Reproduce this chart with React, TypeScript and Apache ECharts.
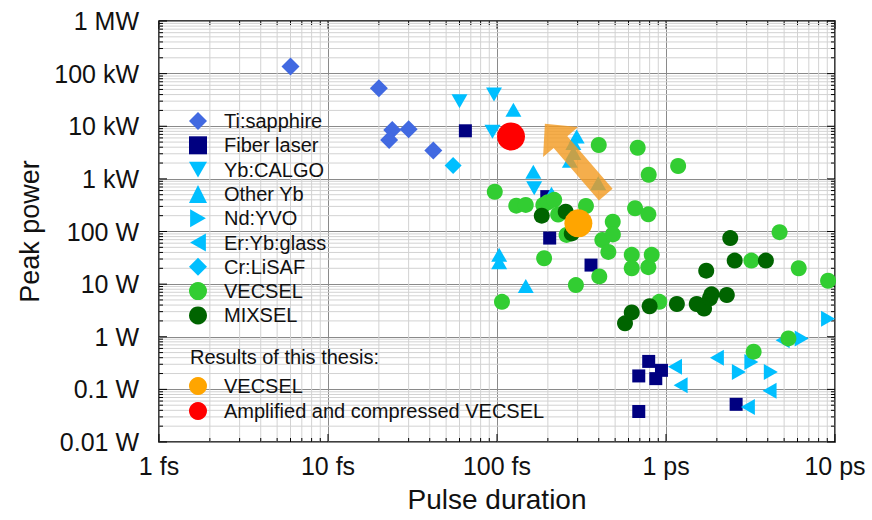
import React, { useEffect, useRef } from 'react';
import * as echarts from 'echarts';

// Axis tick labels (one per decade)
const xTickLabels = ['1 fs', '10 fs', '100 fs', '1 ps', '10 ps'];
const yTickLabels = ['0.01 W', '0.1 W', '1 W', '10 W', '100 W', '1 kW', '10 kW', '100 kW', '1 MW'];
const xMinLog = 0;
const yMinLog = -2;

// Data: [pulse duration (fs), peak power (W)]
const tiSapphire = [[6, 137000], [20, 53000], [24, 8500], [23, 5500], [30, 8800], [42, 3450]];
const fiberLaser = [[65, 8200], [197, 460], [205, 75], [360, 23], [790, 0.34], [690, 0.18], [870, 0.16], [940, 0.23], [690, 0.038], [2600, 0.052]];
const ybCalgo = [[60, 30000], [96, 40000], [94, 7900], [166, 660]];
const otherYb = [[125, 20500], [164, 1370], [210, 520], [296, 6400], [283, 4800], [283, 3100], [270, 2200], [397, 830], [103, 36], [103, 26], [148, 9.2]];
const ndYvo = [[9100, 2.2], [6350, 0.93], [3200, 0.33], [2700, 0.215], [4170, 0.215]];
const erYbGlass = [[1130, 0.27], [1220, 0.12], [2000, 0.4], [4100, 0.094], [3050, 0.046], [4900, 0.86]];
const crLiSaf = [[55, 1790]];
const vecsel = [[97, 570], [107, 4.6], [130, 310], [148, 320], [188, 320], [200, 360], [218, 400], [190, 31], [230, 210], [258, 86], [293, 9.6], [336, 305], [400, 4400], [403, 14], [420, 69], [456, 41], [484, 154], [485, 88], [627, 36], [627, 20], [656, 276], [680, 3900], [786, 212], [790, 1200], [786, 21], [823, 36], [913, 4.6], [1180, 1760], [3200, 28], [3300, 0.52], [4700, 97], [5300, 0.93], [6100, 20], [9100, 11.6]];
const mixsel = [[184, 200], [255, 238], [277, 92], [572, 1.8], [627, 2.9], [800, 3.8], [1160, 4.2], [1520, 4.2], [1680, 3.45], [1820, 5.4], [1860, 6.4], [2290, 6.2], [1730, 18], [2400, 75], [2550, 28], [3900, 28]];
const thesisVecsel = [[303, 143]];
const thesisAmplified = [[121, 6400]];

// Arrow annotation (from -> to), in data units
const arrowFrom = [440, 500];
const arrowTo = [192, 11100];

const FONT = '"Liberation Sans", Arial, Helvetica, sans-serif';
const CYAN = '#00BFFF';

const downTri = 'path://M0,0L16,0L8,14Z';
const rightTri = 'path://M0,0L14,8L0,16Z';
const leftTri = 'path://M14,0L0,8L14,16Z';

// minor/major tick structure for the log axes
const gridItems: number[][] = [];
for (let d = xMinLog; d < xMinLog + xTickLabels.length; d++) {
  gridItems.push([Math.pow(10, d), 1, 0, 1]);
  if (d < xMinLog + xTickLabels.length - 1) for (let k = 2; k <= 9; k++) gridItems.push([k * Math.pow(10, d), 1, 0, 0]);
}
for (let d = yMinLog; d < yMinLog + yTickLabels.length; d++) {
  gridItems.push([1, Math.pow(10, d), 1, 1]);
  if (d < yMinLog + yTickLabels.length - 1) for (let k = 2; k <= 9; k++) gridItems.push([1, k * Math.pow(10, d), 1, 0]);
}

const labelFor = (labels: string[], minLog: number) => (v: number) => {
  const i = Math.round(Math.log10(v)) - minLog;
  return labels[i] ?? '';
};

function scatter(name: string, data: number[][], symbol: string, size: any, color: string, z = 2) {
  return {
    name,
    type: 'scatter',
    data,
    symbol,
    symbolSize: size,
    itemStyle: { color, opacity: 1 },
    z,
    silent: true,
  };
}

const legendText = { fontSize: 20, color: '#111', fontFamily: FONT, padding: [0, 0, 0, 12] };

export default function App() {
  const ref = useRef<HTMLDivElement>(null);
  useEffect(() => {
    if (!ref.current) return;
    const chart = echarts.init(ref.current, null, { renderer: 'svg' });
    const titleEl = { id: 'resTitle', type: 'text', left: 190, top: 347, z: 100, style: { text: 'Results of this thesis:', fontSize: 20, fill: '#111', fontFamily: FONT } };
    const option: any = {
      animation: false,
      backgroundColor: '#fff',
      textStyle: { fontFamily: FONT },
      grid: { left: 159, top: 21, width: 676, height: 421, show: true, borderColor: '#000', borderWidth: 1.5, backgroundColor: 'transparent', containLabel: false },
      xAxis: {
        type: 'log', logBase: 10, min: 1, max: 10000, splitNumber: 4,
        axisLine: { show: false }, axisTick: { show: false },
        splitLine: { show: true, lineStyle: { color: '#8a8a8a', width: 1 } },
        axisLabel: { formatter: labelFor(xTickLabels, xMinLog), fontSize: 25, color: '#111', fontFamily: FONT, margin: 11 },
        name: 'Pulse duration', nameLocation: 'middle', nameGap: 43,
        nameTextStyle: { fontSize: 28, color: '#111', fontFamily: FONT },
      },
      yAxis: {
        type: 'log', logBase: 10, min: 0.01, max: 1000000, splitNumber: 8,
        axisLine: { show: false }, axisTick: { show: false },
        splitLine: { show: true, lineStyle: { color: '#8a8a8a', width: 1 } },
        axisLabel: { formatter: labelFor(yTickLabels, yMinLog), fontSize: 25, color: '#111', fontFamily: FONT, margin: 20 },
        name: 'Peak power', nameLocation: 'middle', nameGap: 112,
        nameTextStyle: { fontSize: 27, color: '#111', fontFamily: FONT },
      },
      legend: [
        {
          orient: 'vertical', left: 189, top: 111, padding: 0, itemGap: 4.3,
          itemWidth: 18, itemHeight: 18,
          textStyle: legendText,
          selectedMode: false,
          data: ['Ti:sapphire', 'Fiber laser', 'Yb:CALGO', 'Other Yb', 'Nd:YVO', 'Er:Yb:glass', 'Cr:LiSAF', 'VECSEL', 'MIXSEL'],
        },
        {
          orient: 'vertical', left: 189, top: 376, padding: 0, itemGap: 5,
          itemWidth: 18, itemHeight: 18,
          textStyle: legendText,
          selectedMode: false,
          formatter: (n: string) => (n === 'VECSEL (this thesis)' ? 'VECSEL' : n),
          data: ['VECSEL (this thesis)', 'Amplified and compressed VECSEL'],
        },
      ],
      graphic: [titleEl],
      series: [
        {
          type: 'custom', name: '_grid', silent: true, z: 1, clip: false,
          encode: { x: 0, y: 1 },
          data: gridItems,
          renderItem: (params: any, api: any) => {
            const cs = params.coordSys;
            const kind = api.value(2);
            const major = api.value(3) === 1;
            const tl = major ? 8 : 4;
            const ch: any[] = [];
            const tick = { stroke: '#000', lineWidth: 1 };
            if (kind === 0) {
              const px = api.coord([api.value(0), 1])[0];
              const y0 = cs.y, y1 = cs.y + cs.height;
              if (!major) ch.push({ type: 'line', shape: { x1: px, y1: y0, x2: px, y2: y1 }, style: { stroke: '#d2d2d2', lineWidth: 1 } });
              ch.push({ type: 'line', shape: { x1: px, y1: y1, x2: px, y2: y1 - tl }, style: tick });
              ch.push({ type: 'line', shape: { x1: px, y1: y0, x2: px, y2: y0 + tl }, style: tick });
            } else {
              const py = api.coord([1, api.value(1)])[1];
              const x0 = cs.x, x1 = cs.x + cs.width;
              if (!major) ch.push({ type: 'line', shape: { x1: x0, y1: py, x2: x1, y2: py }, style: { stroke: '#d2d2d2', lineWidth: 1 } });
              ch.push({ type: 'line', shape: { x1: x0, y1: py, x2: x0 + tl, y2: py }, style: tick });
              ch.push({ type: 'line', shape: { x1: x1, y1: py, x2: x1 - tl, y2: py }, style: tick });
            }
            return { type: 'group', children: ch };
          },
        },
        scatter('Ti:sapphire', tiSapphire, 'diamond', 18, '#4169E1'),
        scatter('Fiber laser', fiberLaser, 'rect', 13, '#000080'),
        scatter('Yb:CALGO', ybCalgo, downTri, [16, 14], CYAN),
        scatter('Other Yb', otherYb, 'triangle', [16, 14], CYAN),
        scatter('Nd:YVO', ndYvo, rightTri, [14, 16], CYAN),
        scatter('Er:Yb:glass', erYbGlass, leftTri, [14, 16], CYAN),
        scatter('Cr:LiSAF', crLiSaf, 'diamond', 17, CYAN),
        scatter('VECSEL', vecsel, 'circle', 16, '#32CD32'),
        scatter('MIXSEL', mixsel, 'circle', 16, '#006400'),
        scatter('VECSEL (this thesis)', thesisVecsel, 'circle', 28, '#FFA500', 3),
        scatter('Amplified and compressed VECSEL', thesisAmplified, 'circle', 28, '#FF0000', 3),
      ],
    };
    chart.setOption(option);

    const a = chart.convertToPixel({ gridIndex: 0 } as any, arrowFrom) as number[];
    const b = chart.convertToPixel({ gridIndex: 0 } as any, arrowTo) as number[];
    if (a && b) {
      const dx = b[0] - a[0], dy = b[1] - a[1];
      const L = Math.hypot(dx, dy);
      const ux = dx / L, uy = dy / L;
      const nx = -uy, ny = ux;
      const sw = 9, hw = 23, hl = 24;
      const neck = [b[0] - ux * hl, b[1] - uy * hl];
      const pts = [
        [a[0] + nx * sw, a[1] + ny * sw],
        [neck[0] + nx * sw, neck[1] + ny * sw],
        [neck[0] + nx * hw, neck[1] + ny * hw],
        [b[0], b[1]],
        [neck[0] - nx * hw, neck[1] - ny * hw],
        [neck[0] - nx * sw, neck[1] - ny * sw],
        [a[0] - nx * sw, a[1] - ny * sw],
      ];
      chart.setOption({
        graphic: [
          titleEl,
          { id: 'arrow', type: 'polygon', shape: { points: pts }, style: { fill: '#F29A1F', opacity: 0.8 }, z: 50, silent: true },
        ],
      });
    }
    return () => chart.dispose();
  }, []);
  return <div ref={ref} style={{ position: 'fixed', left: 0, top: 0, width: 872, height: 520 }} />;
}
